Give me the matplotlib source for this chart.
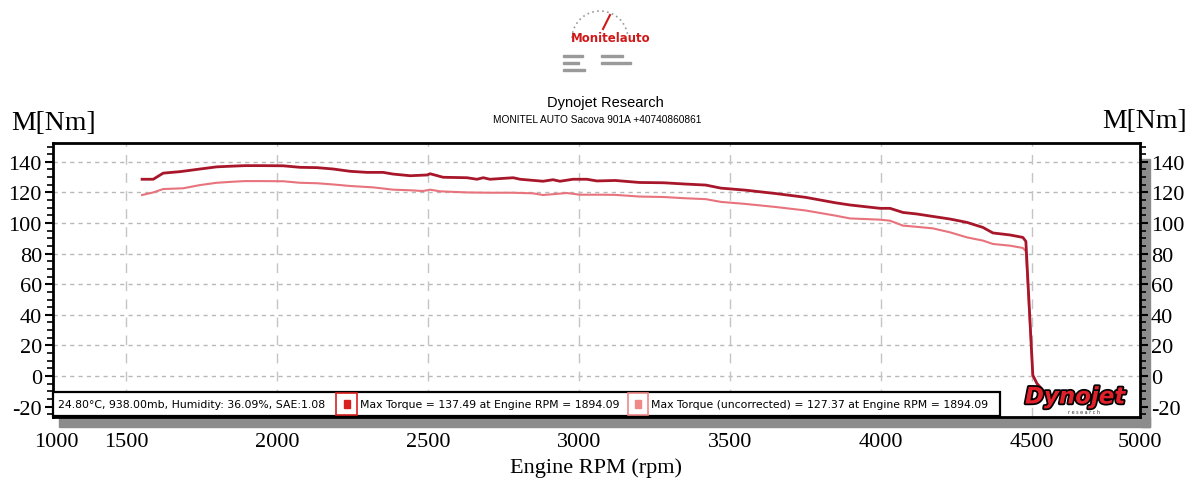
import numpy as np
import matplotlib.pyplot as plt
from matplotlib.patches import Rectangle, Arc
import matplotlib.patheffects as pe

plt.rcParams["axes.unicode_minus"] = False

# Curva de par corregido (SAE) - Dynojet
rpm_corr = [1553, 1590, 1623, 1680, 1745, 1800, 1855, 1894, 1950, 2020, 2076,
            2132, 2186, 2242, 2298, 2351, 2384, 2441, 2497, 2507, 2550, 2629,
            2662, 2683, 2705, 2782, 2805, 2881, 2914, 2937, 2980, 3026, 3059,
            3120, 3200, 3280, 3350, 3420, 3470, 3550, 3650, 3750, 3850, 3897,
            3997, 4030, 4073, 4119, 4172, 4229, 4285, 4338, 4371, 4427, 4470,
            4480, 4503, 4517, 4535]
par_corr = [128.6, 128.6, 132.6, 133.6, 135.3, 136.7, 137.2, 137.5, 137.5,
            137.4, 136.4, 136.2, 135.3, 133.8, 133.1, 133.1, 132.0, 130.9,
            131.4, 132.2, 129.9, 129.6, 128.6, 129.6, 128.6, 129.6, 128.6,
            127.3, 128.3, 127.3, 128.6, 128.6, 127.5, 127.8, 126.5, 126.3,
            125.5, 124.8, 122.8, 121.5, 119.3, 116.8, 113.2, 111.8, 109.6,
            109.6, 106.9, 105.9, 104.3, 102.6, 100.4, 97.1, 93.5, 92.2, 90.6,
            88.0, 0.5, -5.0, -9.0]

# Curva de par sin corregir
rpm_unc = [1553, 1590, 1623, 1689, 1745, 1800, 1855, 1894, 1950, 2020, 2076,
           2132, 2186, 2242, 2318, 2384, 2441, 2483, 2507, 2540, 2629, 2700,
           2780, 2848, 2881, 2960, 3003, 3069, 3120, 3200, 3280, 3350, 3420,
           3470, 3550, 3650, 3750, 3850, 3897, 3997, 4030, 4073, 4119, 4172,
           4229, 4285, 4338, 4371, 4427, 4470, 4480, 4503, 4517, 4535]
par_unc = [118.3, 120.0, 122.2, 122.7, 124.8, 126.3, 127.0, 127.4, 127.4,
           127.3, 126.3, 126.0, 125.2, 124.2, 123.3, 121.8, 121.4, 120.9,
           121.8, 120.7, 120.0, 119.8, 119.8, 119.4, 118.3, 119.6, 118.5,
           118.5, 118.4, 117.3, 117.0, 116.2, 115.6, 113.8, 112.5, 110.5,
           108.2, 104.8, 103.0, 102.2, 101.5, 98.3, 97.5, 96.5, 93.9, 90.6,
           88.5, 86.3, 85.2, 83.7, 81.5, 0.5, -5.0, -9.0]

x_tick_pos = [1268, 1500, 2000, 2500, 3000, 3500, 4000, 4500, 4858]
x_tick_txt = ["1000", "1500", "2000", "2500", "3000", "3500", "4000", "4500", "5000"]
y_ticks = [-20, 0, 20, 40, 60, 80, 100, 120, 140]

cond_txt = "24.80\u00b0C, 938.00mb, Humidity: 36.09%, SAE:1.08"
leyenda_corr = "Max Torque = 137.49 at Engine RPM = 1894.09"
leyenda_unc = "Max Torque (uncorrected) = 127.37 at Engine RPM = 1894.09"

ROJO = "#a8162a"
ROSA = "#e8737c"
W, H = 1197, 481


def px(x, y):
    """Pixel (origen arriba-izquierda) -> coordenadas de figura."""
    return x / W, 1 - y / H


fig = plt.figure(figsize=(W / 100, H / 100), dpi=100)
ax = fig.add_axes([53 / W, 1 - 418 / H, (1140 - 53) / W, (418 - 144) / H])

ax.plot(rpm_unc, par_unc, color=ROSA, lw=1.5, zorder=3)
ax.plot(rpm_corr, par_corr, color=ROJO, lw=2.0, zorder=4)

ax.set_xlim(1258, 4858)
ax.set_ylim(-26.8, 152.3)

# ejes
ax.set_xticks(x_tick_pos)
ax.set_xticklabels(x_tick_txt)
ax.set_yticks(y_ticks)
ax.set_yticks(np.arange(-25, 152, 5), minor=True)
ax.tick_params(axis="x", length=0, pad=11, labelsize=16, labelfontfamily="Liberation Serif")
ax.tick_params(axis="y", which="both", direction="out", left=True, right=True,
               labelleft=True, labelright=True, labelsize=16, pad=2,
               labelfontfamily="Liberation Serif", width=1.5)
ax.tick_params(axis="y", which="major", length=6)
ax.tick_params(axis="y", which="minor", length=4, width=1.2)
for s in ax.spines.values():
    s.set_linewidth(2)

# rejilla
for y in y_ticks[1:]:
    ax.axhline(y, color="#b8b8b8", lw=1, ls=(0, (3, 3)), zorder=1)
for x in x_tick_pos[1:-1]:
    ax.axvline(x, color="#c4c4c4", lw=1, ls=(0, (7, 6)), zorder=1)

ax.set_xlabel("Engine RPM (rpm)", fontsize=16, family="Liberation Serif", labelpad=4)

# sombras grises
x0, y0 = px(59, 428)
fig.add_artist(Rectangle((x0, y0), (1150 - 59) / W, 10 / H, color="#8c8c8c", zorder=0))
x0, y0 = px(1141, 428)
fig.add_artist(Rectangle((x0, y0), 9 / W, (428 - 160) / H, color="#8c8c8c", zorder=0))

# caja de condiciones y máximos
x0, y0 = px(53, 417)
fig.add_artist(Rectangle((x0, y0), (1000 - 53) / W, 24 / H, facecolor="white",
                         edgecolor="black", lw=1.6, zorder=5))
fig.text(*px(58, 405), cond_txt, fontsize=7.8, family="DejaVu Sans", va="center", zorder=6)
for (xa, xb), col in [((336, 357), "#d82020"), ((628, 648), "#f08888")]:
    bx, by = px(xa, 416)
    fig.add_artist(Rectangle((bx, by), (xb - xa) / W, 22 / H, facecolor="white",
                             edgecolor=col, lw=1.2, zorder=6))
    cx = (xa + xb) / 2
    sx, sy = px(cx - 3, 409)
    fig.add_artist(Rectangle((sx, sy), 6 / W, 8 / H, color=col, zorder=7))
fig.text(*px(360, 405), leyenda_corr, fontsize=7.8, family="DejaVu Sans", va="center", zorder=6)
fig.text(*px(651, 405), leyenda_unc, fontsize=7.8, family="DejaVu Sans", va="center", zorder=6)

# logo Dynojet
t = fig.text(*px(1075, 398), "Dynojet", fontsize=16.5, fontweight="bold", style="italic",
             family="DejaVu Sans", color="#e0202a", ha="center", va="center", zorder=8)
t.set_path_effects([pe.Stroke(linewidth=2.5, foreground="black"), pe.Normal()])
fig.text(*px(1084, 413), "r e s e a r c h", fontsize=3.5, color="#333333",
         ha="center", va="center", zorder=8)

# etiquetas de unidades
fig.text(*px(54, 124), "M[Nm]", fontsize=20, family="Liberation Serif", ha="center", va="center")
fig.text(*px(1145, 122), "M[Nm]", fontsize=20, family="Liberation Serif", ha="center", va="center")

# encabezado
fig.text(*px(605, 103), "Dynojet Research", fontsize=10.5, family="Liberation Sans",
         ha="center", va="center")
fig.text(*px(597, 120), "MONITEL AUTO Sacova 901A +40740860861", fontsize=7.3,
         family="Liberation Sans", ha="center", va="center", stretch="condensed")

# logo Monitelauto
lx, ly = px(600, 40)
arco = Arc((lx, ly), 56 / W, 56 / H, theta1=25, theta2=185, color="#999999",
           lw=1.2, ls=(0, (1, 2)), transform=fig.transFigure)
fig.add_artist(arco)
p0, p1 = px(603, 30), px(610, 16)
fig.add_artist(plt.Line2D([p0[0], p1[0]], [p0[1], p1[1]], color="#d01818",
                          lw=1.5, transform=fig.transFigure))
fig.text(*px(611, 38), "Monitelauto", fontsize=8.5, fontweight="bold", color="#d01818",
         ha="center", va="center")
for (xa, ya, w) in [(563, 58, 20), (563, 65, 16), (563, 72, 22), (601, 58, 22), (601, 65, 30)]:
    bx, by = px(xa, ya)
    fig.add_artist(Rectangle((bx, by), w / W, 2 / H, color="#9a9a9a"))

fig.savefig("out.png", dpi=100)
